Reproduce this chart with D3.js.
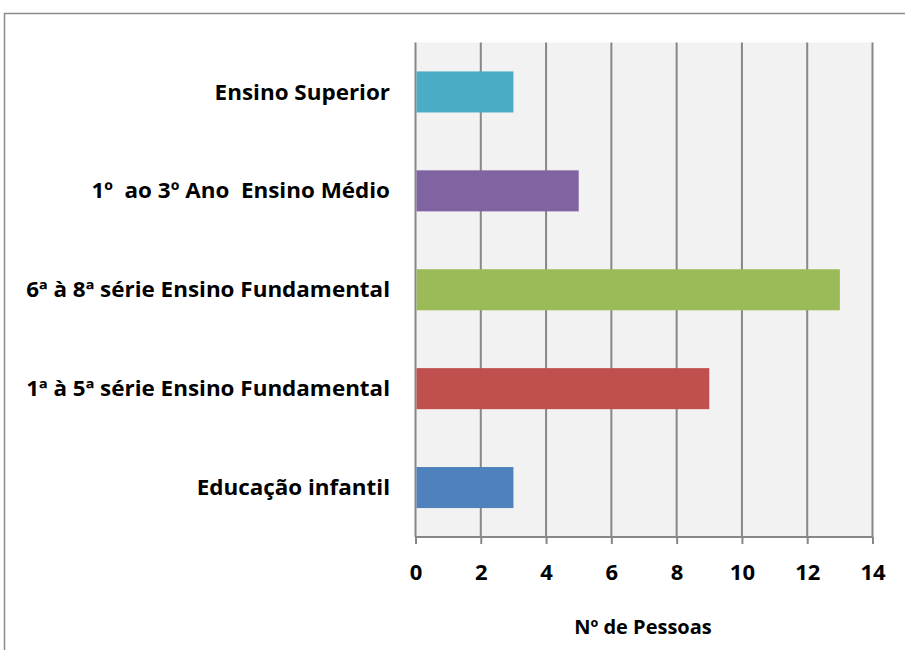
<!DOCTYPE html>
<html>
<head>
<meta charset="utf-8">
<script src="https://cdn.jsdelivr.net/npm/d3@7"></script>
<style>
  html, body { margin: 0; padding: 0; background: #fff; }
  svg { display: block; }
  text { font-family: "Open Sans", "Liberation Sans", sans-serif; font-weight: bold; fill: #000; white-space: pre; }
</style>
</head>
<body>
<svg id="chart" width="905" height="650"></svg>
<script>
// Education level categories, top to bottom
const categories = [
  "Ensino Superior",
  "1º  ao 3º Ano  Ensino Médio",
  "6ª à 8ª série Ensino Fundamental",
  "1ª à 5ª série Ensino Fundamental",
  "Educação infantil"
];
const values = [3, 5, 13, 9, 3];
const colors = ["#4BACC6", "#8064A2", "#9BBB59", "#C0504D", "#4F81BD"];
const xTicks = [0, 2, 4, 6, 8, 10, 12, 14];
const xTitle = "Nº de Pessoas";

const svg = d3.select("#chart");
const plot = { left: 415.5, right: 872.5, top: 42.5, bottom: 537 };

// Outer frame (open to the right and bottom)
svg.append("path")
  .attr("d", "M4.5,650 V13.5 H905")
  .attr("fill", "none")
  .attr("stroke", "#8a8a8a")
  .attr("stroke-width", 1.5);

const x = d3.scaleLinear().domain([0, 14]).range([plot.left, plot.right]);
const y = d3.scaleBand().domain(categories).range([plot.top, plot.bottom]).paddingInner(0.585).paddingOuter(0.2925);

// Plot background
svg.append("rect")
  .attr("x", plot.left).attr("y", plot.top)
  .attr("width", plot.right - plot.left).attr("height", plot.bottom - plot.top)
  .attr("fill", "#F2F2F2");

// Vertical gridlines
svg.append("g").selectAll("line").data(xTicks).join("line")
  .attr("x1", d => x(d)).attr("x2", d => x(d))
  .attr("y1", plot.top).attr("y2", plot.bottom)
  .attr("stroke", "#878787").attr("stroke-width", 2);

// Bars
svg.append("g").selectAll("rect").data(categories).join("rect")
  .attr("x", x(0) + 1)
  .attr("y", d => y(d))
  .attr("width", (d, i) => x(values[i]) - x(0) - 1)
  .attr("height", y.bandwidth())
  .attr("fill", (d, i) => colors[i]);

// Bottom axis
const xAxis = d3.axisBottom(x).tickValues(xTicks).tickSize(7).tickPadding(12);
const gx = svg.append("g").attr("transform", `translate(0,${plot.bottom})`).call(xAxis);
gx.select(".domain").attr("stroke", "#878787").attr("stroke-width", 2).attr("d", `M${plot.left},0H${plot.right}`);
gx.selectAll(".tick line").attr("stroke", "#878787").attr("stroke-width", 2);
gx.selectAll(".tick text")
  .style("font-family", null)
  .attr("font-size", 22)
  .attr("y", 35)
  .attr("dy", "0.35em");

// Category labels, narrowed horizontally so the longest spans the measured width
const labelSize = 21;
const labels = svg.append("g").selectAll("text").data(categories).join("text")
  .attr("x", 0)
  .attr("y", 0)
  .attr("dy", "0.36em")
  .attr("text-anchor", "end")
  .attr("font-size", labelSize)
  .text(d => d);
const longest = labels.filter(d => d === categories[2]).node();
const sx = 364 / longest.getComputedTextLength();
labels.attr("transform", d => `translate(390,${y(d) + y.bandwidth() / 2}) scale(${sx},1)`);

// Axis title
svg.append("text")
  .attr("x", 643).attr("y", 627)
  .attr("dy", "0.35em")
  .attr("text-anchor", "middle")
  .attr("font-size", 20)
  .text(xTitle);
</script>
</body>
</html>
